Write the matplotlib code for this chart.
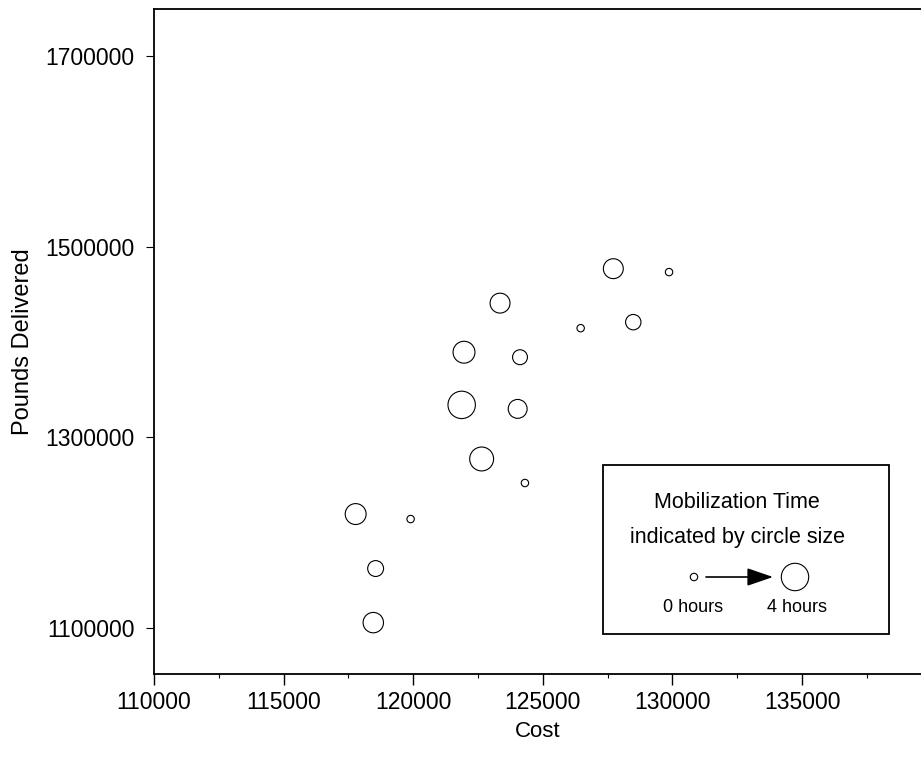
import matplotlib
matplotlib.use("Agg")
import matplotlib.pyplot as plt
from matplotlib.patches import Rectangle

plt.rcParams['font.family'] = ['Liberation Sans', 'DejaVu Sans']

# Data
cost = [127720, 129870, 123350, 126460, 128490, 121960, 124120, 121870,
        124030, 122640, 124310, 117780, 119900, 118550, 118460]
pounds = [1477000, 1473400, 1440850, 1414560, 1420870, 1389340, 1384090, 1334060,
          1329860, 1277300, 1252080, 1219500, 1214240, 1162320, 1105570]
mob_hours = [2.5, 0.0, 2.5, 0.0, 1.6, 2.9, 1.5, 4.0,
             2.3, 3.3, 0.0, 2.7, 0.0, 1.7, 2.6]
x_ticks = [110000, 115000, 120000, 125000, 130000, 135000]
y_ticks = [1100000, 1300000, 1500000, 1700000]
legend_hours = [0, 4]

DPI = 100
fig = plt.figure(figsize=(9.21, 7.57), dpi=DPI)
W, H = 921, 757
ax = fig.add_axes([154 / W, 1 - 674 / H, (W - 154) / W, (674 - 9) / H])

def radius_px(h):
    return 3.7 + h * 2.5

def size_pts2(h):
    d = 2 * radius_px(h) * 72 / DPI
    return d * d

ax.scatter(cost, pounds, s=[size_pts2(h) for h in mob_hours],
           facecolors='none', edgecolors='black', linewidths=0.8, zorder=3)

ax.set_xlim(110000, 139590)
ax.set_ylim(1051650, 1749500)
ax.set_xticks(x_ticks)
ax.set_xticks([112500 + 5000 * i for i in range(6)], minor=True)
ax.set_yticks(y_ticks)
ax.set_xticklabels([str(v) for v in x_ticks])
ax.set_yticklabels([str(v) for v in y_ticks])
ax.tick_params(axis='x', which='major', direction='out', length=8, width=1, labelsize=16.5, pad=4)
ax.tick_params(axis='x', which='minor', direction='out', length=3, width=0.8)
ax.tick_params(axis='y', which='major', direction='out', length=5.5, width=0.8, labelsize=16.5, pad=8.5)
ax.spines['right'].set_visible(False)
for s in ['left', 'top', 'bottom']:
    ax.spines[s].set_linewidth(1.3)

ax.set_xlabel('Cost', fontsize=16, labelpad=5)
ax.set_ylabel('Pounds Delivered', fontsize=17, labelpad=8)

# Legend box
bx0, bx1, by0, by1 = 603, 889, 465, 634
fig.add_artist(Rectangle((bx0 / W, 1 - by1 / H), (bx1 - bx0) / W, (by1 - by0) / H,
                         transform=fig.transFigure, facecolor='white',
                         edgecolor='black', linewidth=1.3, zorder=5))
fig.text(737 / W, 1 - 503 / H, 'Mobilization Time', ha='center', va='center',
         fontsize=15.5, zorder=6)
fig.text(737 / W, 1 - 537 / H, 'indicated by circle size', ha='center', va='center',
         fontsize=15.5, zorder=6)

lx = [694 / W, 795 / W]
ly = [1 - 577 / H, 1 - 577 / H]
leg_ax = fig.add_axes([0, 0, 1, 1], facecolor='none', zorder=7)
leg_ax.set_xlim(0, 1)
leg_ax.set_ylim(0, 1)
leg_ax.axis('off')
leg_ax.scatter(lx, ly, s=[size_pts2(h) for h in legend_hours],
               facecolors='none', edgecolors='black', linewidths=0.8)
leg_ax.annotate('', xy=(773 / W, 1 - 577 / H), xytext=(706 / W, 1 - 577 / H),
                arrowprops=dict(arrowstyle='-|>,head_length=1.6,head_width=0.55',
                                color='black', lw=1.2, shrinkA=0, shrinkB=0))
fig.text(693 / W, 1 - 607 / H, '0 hours', ha='center', va='center', fontsize=13, zorder=8)
fig.text(797 / W, 1 - 607 / H, '4 hours', ha='center', va='center', fontsize=13, zorder=8)

fig.savefig('out.png', dpi=DPI)
